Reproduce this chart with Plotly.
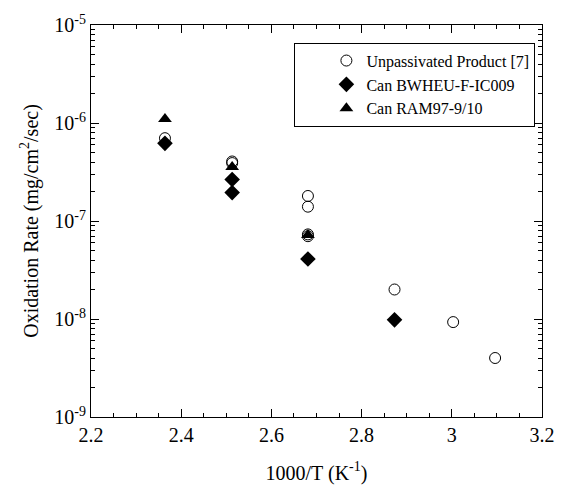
import plotly.graph_objects as go

# Data
unpass_x = [2.364, 2.513, 2.513, 2.681, 2.681, 2.681, 2.681, 2.873, 3.003, 3.096]
unpass_y = [7.0e-7, 4.05e-7, 3.9e-7, 1.8e-7, 1.4e-7, 7.3e-8, 7.0e-8, 2.0e-8, 9.3e-9, 4.0e-9]

bwheu_x = [2.364, 2.513, 2.513, 2.681, 2.873]
bwheu_y = [6.2e-7, 2.65e-7, 1.95e-7, 4.1e-8, 9.8e-9]

ram_x = [2.364, 2.513, 2.681]
ram_y = [1.1e-6, 3.55e-7, 7.2e-8]

ytick_vals = [1e-9, 1e-8, 1e-7, 1e-6, 1e-5]
ytick_text = ["10<sup>-9</sup>", "10<sup>-8</sup>", "10<sup>-7</sup>", "10<sup>-6</sup>", "10<sup>-5</sup>"]
ytick_minor = [m * d for d in [1e-9, 1e-8, 1e-7, 1e-6] for m in range(2, 10)]
xtick_vals = [2.2, 2.4, 2.6, 2.8, 3.0, 3.2]
xtick_text = ["2.2", "2.4", "2.6", "2.8", "3", "3.2"]

FONT = "Liberation Serif"

fig = go.Figure()
fig.add_trace(go.Scatter(
    x=unpass_x, y=unpass_y, mode="markers", name="Unpassivated Product [7]",
    marker=dict(symbol="circle-open", size=11, color="black", line=dict(width=1, color="black"))))
fig.add_trace(go.Scatter(
    x=bwheu_x, y=bwheu_y, mode="markers", name="Can BWHEU-F-IC009",
    marker=dict(symbol="diamond", size=12, color="black")))
fig.add_trace(go.Scatter(
    x=ram_x, y=ram_y, mode="markers", name="Can RAM97-9/10",
    marker=dict(symbol="triangle-up", size=12, color="black")))

fig.update_layout(
    width=567, height=492,
    margin=dict(l=91, r=15, t=22, b=59),
    paper_bgcolor="white", plot_bgcolor="white",
    font=dict(family=FONT, size=20, color="black"),
    showlegend=True,
    legend=dict(
        x=0.451, y=0.955, xanchor="left", yanchor="top",
        bordercolor="black", borderwidth=1, bgcolor="white",
        font=dict(family=FONT, size=16, color="black"),
        indentation=31, tracegroupgap=0,
    ),
    xaxis=dict(
        range=[2.2, 3.2], tickvals=xtick_vals, ticktext=xtick_text,
        ticks="inside", ticklen=8, tickwidth=1, tickcolor="black",
        minor=dict(dtick=0.05, ticks="inside", ticklen=4, tickcolor="black", showgrid=False),
        showline=True, linecolor="black", linewidth=1, mirror="allticks",
        showgrid=False, zeroline=False,
        title=dict(text="1000/T (K<sup>-1</sup>)", font=dict(family=FONT, size=20), standoff=20),
        tickfont=dict(family=FONT, size=20),
    ),
    yaxis=dict(
        type="log", range=[-9, -5], tickvals=ytick_vals, ticktext=ytick_text,
        ticks="inside", ticklen=8, tickwidth=1, tickcolor="black",
        minor=dict(tickmode="array", tickvals=ytick_minor, ticks="inside", ticklen=4,
                   tickcolor="black", showgrid=False),
        showline=True, linecolor="black", linewidth=1, mirror="allticks",
        showgrid=False, zeroline=False,
        title=dict(text="Oxidation Rate (mg/cm<sup>2</sup>/sec)", font=dict(family=FONT, size=20), standoff=10),
        tickfont=dict(family=FONT, size=20),
    ),
)

fig.write_html("out.html")
